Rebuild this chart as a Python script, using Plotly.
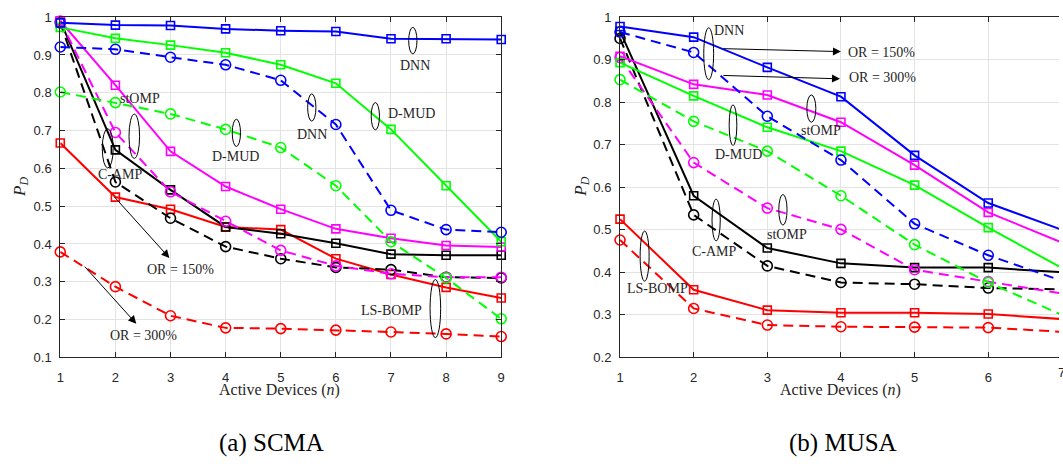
import plotly.graph_objects as go

# ---------------- data ----------------
n_scma = [1, 2, 3, 4, 5, 6, 7, 8, 9]
scma_dnn_150 = [0.985, 0.979, 0.978, 0.969, 0.964, 0.962, 0.943, 0.943, 0.941]
scma_dnn_300 = [0.921, 0.915, 0.894, 0.874, 0.833, 0.716, 0.489, 0.438, 0.431]
scma_dmud_150 = [0.973, 0.944, 0.926, 0.906, 0.874, 0.825, 0.703, 0.554, 0.406]
scma_dmud_300 = [0.802, 0.774, 0.744, 0.703, 0.655, 0.554, 0.406, 0.310, 0.202]
scma_stomp_150 = [0.990, 0.820, 0.645, 0.552, 0.492, 0.440, 0.415, 0.396, 0.392]
scma_stomp_300 = [0.990, 0.695, 0.538, 0.460, 0.383, 0.342, 0.321, 0.312, 0.312]
scma_camp_150 = [0.990, 0.649, 0.543, 0.445, 0.427, 0.402, 0.373, 0.370, 0.370]
scma_camp_300 = [0.985, 0.564, 0.468, 0.393, 0.361, 0.338, 0.332, 0.312, 0.310]
scma_lsbomp_150 = [0.667, 0.524, 0.492, 0.445, 0.438, 0.361, 0.319, 0.285, 0.257]
scma_lsbomp_300 = [0.379, 0.287, 0.210, 0.178, 0.176, 0.172, 0.167, 0.162, 0.155]

n_musa = [1, 2, 3, 4, 5, 6, 7]
musa_dnn_150 = [0.978, 0.953, 0.882, 0.813, 0.675, 0.563, 0.500]
musa_dnn_300 = [0.965, 0.917, 0.767, 0.664, 0.514, 0.440, 0.380]
musa_dmud_150 = [0.893, 0.815, 0.741, 0.685, 0.605, 0.505, 0.410]
musa_dmud_300 = [0.853, 0.755, 0.685, 0.580, 0.465, 0.376, 0.300]
musa_stomp_150 = [0.908, 0.842, 0.817, 0.753, 0.652, 0.541, 0.470]
musa_stomp_300 = [0.905, 0.658, 0.551, 0.501, 0.406, 0.378, 0.350]
musa_camp_150 = [0.967, 0.580, 0.457, 0.421, 0.411, 0.411, 0.400]
musa_camp_300 = [0.950, 0.535, 0.415, 0.376, 0.372, 0.363, 0.360]
musa_lsbomp_150 = [0.525, 0.359, 0.311, 0.305, 0.305, 0.302, 0.290]
musa_lsbomp_300 = [0.476, 0.315, 0.276, 0.272, 0.271, 0.270, 0.260]

scma_yticks = [0.1, 0.2, 0.3, 0.4, 0.5, 0.6, 0.7, 0.8, 0.9, 1.0]
scma_yticklabels = ["0.1", "0.2", "0.3", "0.4", "0.5", "0.6", "0.7", "0.8", "0.9", "1"]
musa_yticks = [0.2, 0.3, 0.4, 0.5, 0.6, 0.7, 0.8, 0.9, 1.0]
musa_yticklabels = ["0.2", "0.3", "0.4", "0.5", "0.6", "0.7", "0.8", "0.9", "1"]
scma_xticks = [1, 2, 3, 4, 5, 6, 7, 8, 9]
musa_xticks = [1, 2, 3, 4, 5, 6, 7]

# ---------------- styling ----------------
BLUE, GREEN, MAGENTA, BLACK, RED = "#0000ff", "#00ff00", "#ff00ff", "#000000", "#ff0000"
AXC = "#262626"
GRID = "#e3e3e3"
SERIF = "Liberation Serif, Times New Roman, serif"
SANS = "Liberation Sans, Arial, sans-serif"
DASH = "10px,6px"

fig = go.Figure()


def add_curve(x, y, color, dashed, xa, ya):
    fig.add_trace(go.Scatter(
        x=x, y=y, mode="lines+markers", xaxis=xa, yaxis=ya,
        line=dict(color=color, width=2, dash=DASH if dashed else "solid"),
        marker=dict(symbol="circle-open" if dashed else "square-open",
                    size=10 if dashed else 8, color=color,
                    line=dict(width=1.6, color=color)),
        cliponaxis=False, showlegend=False, hoverinfo="skip"))


scma_series = [
    (scma_lsbomp_300, RED, True), (scma_lsbomp_150, RED, False),
    (scma_camp_300, BLACK, True), (scma_camp_150, BLACK, False),
    (scma_stomp_300, MAGENTA, True), (scma_stomp_150, MAGENTA, False),
    (scma_dmud_300, GREEN, True), (scma_dmud_150, GREEN, False),
    (scma_dnn_300, BLUE, True), (scma_dnn_150, BLUE, False),
]
for ys, c, d in scma_series:
    add_curve(n_scma, ys, c, d, "x", "y")

musa_series = [
    (musa_lsbomp_300, RED, True), (musa_lsbomp_150, RED, False),
    (musa_camp_300, BLACK, True), (musa_camp_150, BLACK, False),
    (musa_stomp_300, MAGENTA, True), (musa_stomp_150, MAGENTA, False),
    (musa_dmud_300, GREEN, True), (musa_dmud_150, GREEN, False),
    (musa_dnn_300, BLUE, True), (musa_dnn_150, BLUE, False),
]
for ys, c, d in musa_series:
    add_curve(n_musa, ys, c, d, "x2", "y2")

W, H = 1063, 466
ydom = [1 - 362 / H, 1 - 10.5 / H]

axis_common = dict(
    showgrid=True, gridcolor=GRID, gridwidth=1, zeroline=False,
    showline=True, linecolor=AXC, linewidth=1,
    ticks="inside", ticklen=5, tickcolor=AXC, tickwidth=1,
    tickfont=dict(family=SANS, size=13, color=AXC),
)

fig.update_layout(
    width=W, height=H, margin=dict(l=0, r=0, t=0, b=0),
    paper_bgcolor="white", plot_bgcolor="white",
    xaxis=dict(domain=[56.7 / W, 501 / W], range=[1, 9], tickvals=scma_xticks,
               mirror="ticks", anchor="y", ticklabelstandoff=8, **axis_common),
    yaxis=dict(domain=ydom, range=[0.1, 1], tickvals=scma_yticks,
               ticktext=scma_yticklabels, mirror="ticks", anchor="x",
               ticklabelstandoff=5, **axis_common),
    xaxis2=dict(domain=[620.7 / W, 1.0], range=[1, 1 + (W - 620.7) / 74.2],
                tickvals=musa_xticks, mirror="ticks", anchor="y2",
                ticklabelstandoff=8, **axis_common),
    yaxis2=dict(domain=ydom, range=[0.2, 1], tickvals=musa_yticks,
                ticktext=musa_yticklabels, mirror=False, anchor="x2",
                ticklabelstandoff=5, **axis_common),
)

annotations = []
shapes = []


def label(text, x, y, xa, ya, anchor="center"):
    annotations.append(dict(text=text, x=x, y=y, xref=xa, yref=ya, showarrow=False,
                            xanchor=anchor, yanchor="middle",
                            font=dict(family=SERIF, size=14, color=AXC)))


def ellipse(cx, cy, hw, hh, xa, ya):
    shapes.append(dict(type="circle", xref=xa, yref=ya, x0=cx - hw, x1=cx + hw,
                       y0=cy - hh, y1=cy + hh, line=dict(color="black", width=1)))


def arrow(x0, y0, x1, y1, xa, ya):
    annotations.append(dict(text="", x=x1, y=y1, ax=x0, ay=y0, xref=xa, yref=ya,
                            axref=xa, ayref=ya, showarrow=True, arrowhead=2,
                            arrowsize=1.6, arrowwidth=1, arrowcolor="black", standoff=0))


# SCMA panel labels
ellipse(7.396, 0.938, 0.075, 0.035, "x", "y")
label("DNN", 7.43, 0.872, "x", "y")
ellipse(5.563, 0.761, 0.075, 0.036, "x", "y")
label("DNN", 5.56, 0.690, "x", "y")
ellipse(6.716, 0.738, 0.075, 0.036, "x", "y")
label("D-MUD", 7.377, 0.744, "x", "y")
ellipse(4.195, 0.694, 0.075, 0.036, "x", "y")
label("D-MUD", 4.186, 0.631, "x", "y")
ellipse(2.343, 0.685, 0.096, 0.0585, "x", "y")
label("stOMP", 2.446, 0.786, "x", "y")
ellipse(1.861, 0.653, 0.099, 0.052, "x", "y")
label("C-AMP", 2.089, 0.584, "x", "y")
ellipse(7.805, 0.229, 0.096, 0.077, "x", "y")
label("LS-BOMP", 7.014, 0.223, "x", "y")
arrow(1.96, 0.528, 2.98, 0.363, "x", "y")
label("OR = 150%", 3.189, 0.333, "x", "y")
arrow(1.42, 0.344, 2.379, 0.189, "x", "y")
label("OR = 300%", 2.509, 0.159, "x", "y")

# MUSA panel labels
ellipse(2.204, 0.914, 0.067, 0.061, "x2", "y2")
label("DNN", 2.477, 0.968, "x2", "y2")
arrow(2.383, 0.926, 4.0, 0.919, "x2", "y2")
label("OR = 150%", 4.067, 0.917, "x2", "y2", "left")
arrow(2.383, 0.863, 3.987, 0.855, "x2", "y2")
label("OR = 300%", 4.081, 0.857, "x2", "y2", "left")
ellipse(2.534, 0.746, 0.052, 0.048, "x2", "y2")
label("D-MUD", 2.604, 0.677, "x2", "y2")
ellipse(3.598, 0.785, 0.061, 0.032, "x2", "y2")
label("stOMP", 3.730, 0.733, "x2", "y2")
ellipse(3.212, 0.547, 0.056, 0.036, "x2", "y2")
label("stOMP", 3.271, 0.488, "x2", "y2")
ellipse(2.305, 0.523, 0.056, 0.049, "x2", "y2")
label("C-AMP", 2.278, 0.448, "x2", "y2")
ellipse(1.334, 0.438, 0.061, 0.059, "x2", "y2")
label("LS-BOMP", 1.505, 0.362, "x2", "y2")

# axis titles and captions
for cx in (278, 843):
    annotations.append(dict(text="Active Devices (<i>n</i>)", x=cx / W, y=1 - 396 / H,
                            xref="paper", yref="paper", showarrow=False,
                            xanchor="center", yanchor="middle",
                            font=dict(family=SERIF, size=16, color=AXC)))
for cx in (17, 582):
    annotations.append(dict(text="<i>P</i><sub><i>D</i></sub>", x=cx / W, y=1 - 186 / H,
                            xref="paper", yref="paper", showarrow=False, textangle=-90,
                            xanchor="center", yanchor="middle",
                            font=dict(family=SERIF, size=17, color=AXC)))
for text, cx in (("(a) SCMA", 270), ("(b) MUSA", 845)):
    annotations.append(dict(text=text, x=cx / W, y=1 - 450 / H,
                            xref="paper", yref="paper", showarrow=False,
                            xanchor="center", yanchor="middle",
                            font=dict(family=SERIF, size=25, color="black")))
# last tick label of the MUSA axis sits at the page edge
annotations.append(dict(text="7", x=1066 / W, y=1 - 378 / H, xref="paper", yref="paper",
                        showarrow=False, xanchor="center", yanchor="middle",
                        font=dict(family=SANS, size=13, color=AXC)))

fig.update_layout(annotations=annotations, shapes=shapes)
fig.write_html("out.html")
